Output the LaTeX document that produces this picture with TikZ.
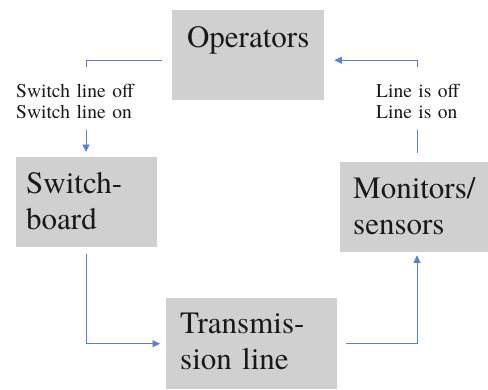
\documentclass[tikz,border=0pt]{standalone}
\usepackage{fontspec}
\setmainfont{texgyretermes}[Extension=.otf, UprightFont=*-regular, BoldFont=*-bold]
\usetikzlibrary{arrows.meta}
\definecolor{boxgray}{RGB}{208,208,208}
\definecolor{linkblue}{RGB}{88,130,208}
\begin{document}
\begin{tikzpicture}[x=1pt,y=-1pt,
  box/.style={fill=boxgray, anchor=north west, inner ysep=0pt,
    font=\fontsize{31pt}{36pt}\selectfont, text=black!90},
  tbox/.style={box, align=left},
  lbl/.style={fill=white, anchor=north west, inner sep=0pt, align=left,
    text height=30pt, text depth=33pt,
    font=\fontsize{19.5pt}{21pt}\selectfont, text=black!90},
  conn/.style={draw=linkblue, line width=0.9pt,
    -{Triangle[length=7.5pt,width=7pt]}}]
\useasboundingbox (0,0) rectangle (488,389);

\node[box, minimum width=152pt, inner xsep=0pt, text height=37pt, text depth=53pt]
  (ops) at (172,10) {Operators};
\node[tbox, text width=121pt, inner xsep=10pt, text height=36pt, text depth=54pt]
  (sw) at (16,157) {Switch-\\board};
\node[tbox, text width=133pt, inner xsep=13pt, text height=36pt, text depth=54pt]
  (mon) at (340,162) {Monitors/\\sensors};
\node[tbox, text width=143pt, inner xsep=14pt, text height=35pt, text depth=56pt]
  (tr) at (166,298) {Transmis-\\sion line};

\draw[conn] ([xshift=-10pt,yshift=-5pt]ops.west) -| ([yshift=5pt]sw.north -| 86,0);
\draw[conn] ([xshift=4pt,yshift=9pt]mon.north -| 413,0) |- ([xshift=10pt,yshift=-5pt]ops.east);
\draw[conn] ([yshift=-7pt]sw.south -| 86,0) |- ([xshift=-6pt]tr.west);
\draw[conn] ([xshift=9pt]tr.east) -| ([yshift=-3pt]mon.south -| 417,0);

\node[lbl, text width=125pt] (l1) at (16,67) {Switch line off\\Switch line on};
\node[lbl, text width=95pt] (l2) at (376,67) {Line is off\\Line is on};
\end{tikzpicture}
\end{document}
